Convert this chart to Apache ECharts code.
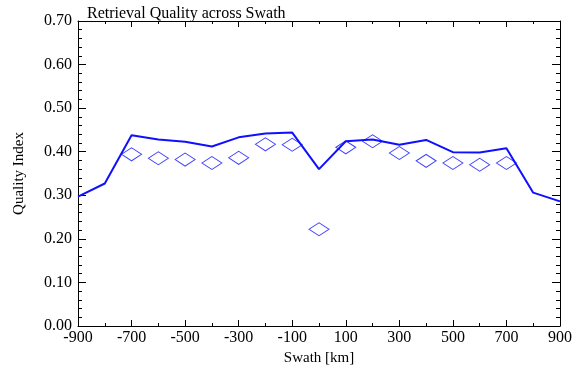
<!DOCTYPE html>
<html><head><meta charset="utf-8">
<script src="https://cdn.jsdelivr.net/npm/echarts@6/dist/echarts.min.js"></script>
<style>html,body{margin:0;padding:0;background:#fff}#c{width:575px;height:371px}</style>
</head><body><div id="c"></div>
<script>
const lineX = [-900,-800,-700,-600,-500,-400,-300,-200,-100,0,100,200,300,400,500,600,700,800,900];
const lineY = [0.297,0.327,0.438,0.428,0.423,0.412,0.433,0.442,0.444,0.360,0.424,0.428,0.416,0.427,0.399,0.398,0.408,0.306,0.286];
const diamX = [-700,-600,-500,-400,-300,-200,-100,0,100,200,300,400,500,600,700];
const diamY = [0.394,0.385,0.382,0.374,0.386,0.417,0.416,0.222,0.410,0.424,0.397,0.379,0.374,0.370,0.374];
const titleText = 'Retrieval Quality across Swath';
const xName = 'Swath [km]';
const yName = 'Quality Index';

const FONT = 'Liberation Serif';
const BLUE = '#1010ff';
function axisCommon(extra) {
  return Object.assign({
    axisLine: {show: true, onZero: false, lineStyle: {color: '#000', width: 1}},
    splitLine: {show: false}
  }, extra);
}
const chart = echarts.init(document.getElementById('c'), null, {renderer: 'canvas'});
chart.setOption({
  animation: false,
  backgroundColor: '#fff',
  title: {text: titleText, left: 82, top: 1,
    textStyle: {fontFamily: FONT, fontSize: 16, fontWeight: 'normal', color: '#000'}},
  grid: {left: 78, right: 13, top: 21, bottom: 34, containLabel: false},
  xAxis: [
    axisCommon({
      type: 'value', min: -900, max: 900, interval: 200, position: 'bottom',
      axisTick: {show: true, inside: true, length: 6, lineStyle: {color: '#000'}},
      minorTick: {show: true, splitNumber: 2, length: 3, lineStyle: {color: '#000'}},
      axisLabel: {fontFamily: FONT, fontSize: 16, color: '#000', margin: 4},
      name: xName, nameLocation: 'middle', nameGap: 25,
      nameTextStyle: {fontFamily: FONT, fontSize: 15, color: '#000'}
    }),
    axisCommon({
      type: 'value', min: -900, max: 900, interval: 200, position: 'top',
      axisTick: {show: true, inside: true, length: 6, lineStyle: {color: '#000'}},
      minorTick: {show: true, splitNumber: 2, length: 3, lineStyle: {color: '#000'}},
      axisLabel: {show: false}
    })
  ],
  yAxis: [
    axisCommon({
      type: 'value', min: 0, max: 0.7, interval: 0.1, position: 'left',
      axisTick: {show: true, inside: true, length: 8, lineStyle: {color: '#000'}},
      minorTick: {show: true, splitNumber: 5, length: 4, lineStyle: {color: '#000'}},
      axisLabel: {fontFamily: FONT, fontSize: 16, color: '#000', margin: 6,
        formatter: v => v.toFixed(2)},
      name: yName, nameLocation: 'middle', nameGap: 51, nameRotate: 90,
      nameTextStyle: {fontFamily: FONT, fontSize: 15, color: '#000'}
    }),
    axisCommon({
      type: 'value', min: 0, max: 0.7, interval: 0.1, position: 'right',
      axisTick: {show: true, inside: true, length: 8, lineStyle: {color: '#000'}},
      minorTick: {show: true, splitNumber: 5, length: 4, lineStyle: {color: '#000'}},
      axisLabel: {show: false}
    })
  ],
  series: [
    {type: 'line', xAxisIndex: 0, yAxisIndex: 0,
     data: lineX.map((x, i) => [x, lineY[i]]),
     showSymbol: false, symbol: 'none',
     lineStyle: {color: BLUE, width: 2}, clip: true, z: 3},
    {type: 'scatter', xAxisIndex: 0, yAxisIndex: 0,
     data: diamX.map((x, i) => [x, diamY[i]]),
     symbol: 'path://M0,1 L1,0 L2,1 L1,2 Z', symbolSize: [20, 13],
     itemStyle: {color: 'rgba(0,0,0,0)', borderColor: BLUE, borderWidth: 1}, z: 4}
  ]
});
</script>
</body></html>
